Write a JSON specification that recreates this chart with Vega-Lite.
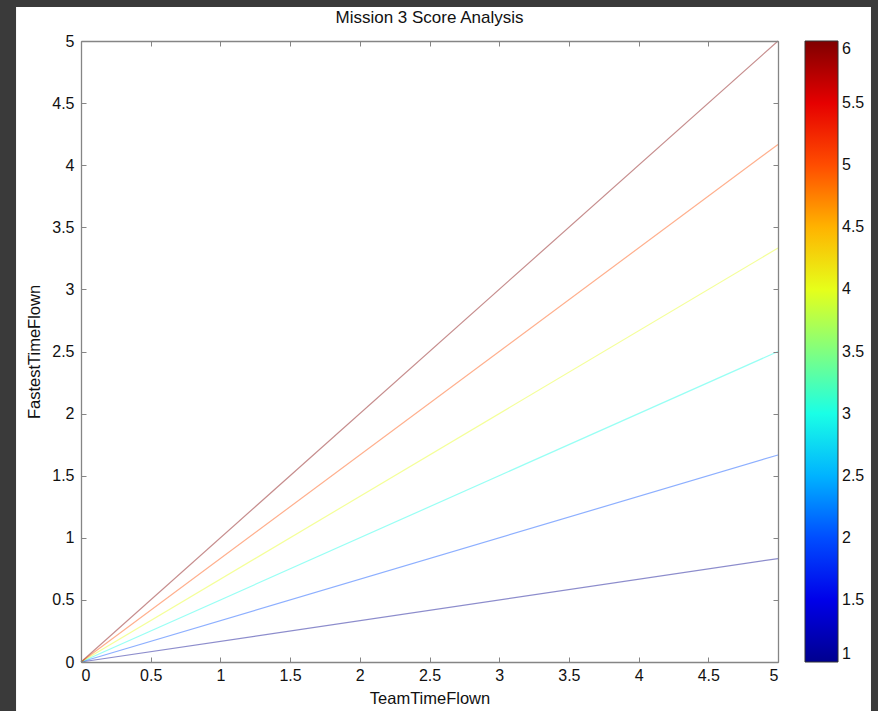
{
  "$schema": "https://vega.github.io/schema/vega-lite/v6.json",
  "width": 697,
  "height": 621,
  "autosize": {"type": "none"},
  "padding": {"left": 81, "top": 41, "right": 100, "bottom": 49},
  "background": "#3a3a3a",
  "title": {
    "text": "Mission 3 Score Analysis",
    "font": "Liberation Sans",
    "fontSize": 17,
    "fontWeight": "normal",
    "color": "#111111",
    "anchor": "middle",
    "frame": "group",
    "offset": -20,
    "zindex": 2
  },
  "config": {
    "view": {"stroke": null},
    "axis": {
      "grid": false,
      "domainColor": "#858585",
      "domainWidth": 1.3,
      "tickColor": "#858585",
      "tickSize": -5,
      "labelFont": "Liberation Sans",
      "labelFontSize": 16,
      "labelColor": "#111111",
      "titleFont": "Liberation Sans",
      "titleFontSize": 16.5,
      "titleFontWeight": "normal",
      "titleColor": "#111111"
    }
  },
  "data": {
    "values": [
      {"team": 0, "fastest": 0, "level": 1},
      {"team": 5, "fastest": 0.833, "level": 1},
      {"team": 0, "fastest": 0, "level": 2},
      {"team": 5, "fastest": 1.667, "level": 2},
      {"team": 0, "fastest": 0, "level": 3},
      {"team": 5, "fastest": 2.5, "level": 3},
      {"team": 0, "fastest": 0, "level": 4},
      {"team": 5, "fastest": 3.333, "level": 4},
      {"team": 0, "fastest": 0, "level": 5},
      {"team": 5, "fastest": 4.167, "level": 5},
      {"team": 0, "fastest": 0, "level": 6},
      {"team": 5, "fastest": 5, "level": 6}
    ]
  },
  "layer": [
    {
      "data": {"values": [{}]},
      "mark": {"type": "rect", "fill": "#ffffff"},
      "encoding": {
        "x": {
          "datum": -0.466,
          "type": "quantitative",
          "scale": {"domain": [0, 5]},
          "axis": {
            "orient": "top",
            "labels": false,
            "title": null,
            "zindex": 2,
            "values": [0, 0.5, 1, 1.5, 2, 2.5, 3, 3.5, 4, 4.5, 5]
          }
        },
        "x2": {"datum": 5.667},
        "y": {
          "datum": 5.274,
          "type": "quantitative",
          "scale": {"domain": [0, 5]},
          "axis": {
            "orient": "right",
            "labels": false,
            "title": null,
            "zindex": 2,
            "values": [0, 0.5, 1, 1.5, 2, 2.5, 3, 3.5, 4, 4.5, 5]
          }
        },
        "y2": {"datum": -0.4}
      }
    },
    {
      "mark": {"type": "line", "strokeWidth": 1.2, "strokeOpacity": 0.45},
      "encoding": {
        "x": {
          "field": "team",
          "type": "quantitative",
          "scale": {"domain": [0, 5]},
          "axis": {
            "orient": "bottom",
            "title": "TeamTimeFlown",
            "zindex": 2,
            "values": [0, 0.5, 1, 1.5, 2, 2.5, 3, 3.5, 4, 4.5, 5],
            "format": ".1~f",
            "labelPadding": 10,
            "titlePadding": 7
          }
        },
        "y": {
          "field": "fastest",
          "type": "quantitative",
          "scale": {"domain": [0, 5]},
          "axis": {
            "orient": "left",
            "title": "FastestTimeFlown",
            "zindex": 2,
            "values": [0, 0.5, 1, 1.5, 2, 2.5, 3, 3.5, 4, 4.5, 5],
            "format": ".1~f",
            "labelPadding": 12,
            "titlePadding": 9
          }
        },
        "detail": {"field": "level", "type": "nominal"},
        "color": {
          "field": "level",
          "type": "quantitative",
          "scale": {
            "domain": [1, 1.625, 2.875, 4.125, 5.375, 6],
            "range": ["#00008f", "#0000ff", "#00ffff", "#ffff00", "#ff0000", "#800000"],
            "interpolate": "rgb"
          },
          "legend": {
            "orient": "none",
            "legendX": 724,
            "legendY": 0,
            "direction": "vertical",
            "title": null,
            "gradientLength": 621,
            "gradientThickness": 33,
            "gradientStrokeColor": "#333333",
            "gradientStrokeWidth": 1,
            "values": [1, 1.5, 2, 2.5, 3, 3.5, 4, 4.5, 5, 5.5, 6],
            "format": ".1~f",
            "labelFont": "Liberation Sans",
            "labelFontSize": 16,
            "labelColor": "#111111",
            "labelOffset": 4,
            "labelBaseline": "middle",
            "labelOverlap": false,
            "zindex": 2
          }
        }
      }
    }
  ],
  "resolve": {"axis": {"x": "independent", "y": "independent"}}
}
